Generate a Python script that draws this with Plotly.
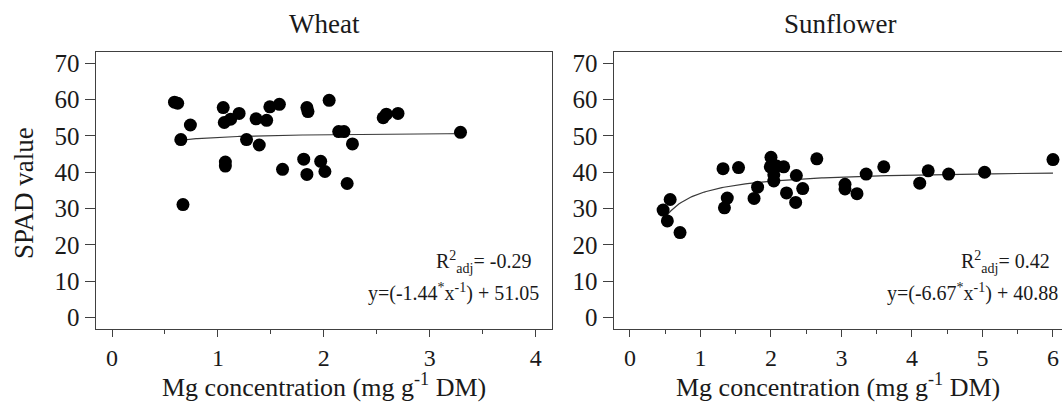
import plotly.graph_objects as go
import numpy as np

# ---------------- data ----------------
wheat_mg = [0.59, 0.62, 0.74, 0.65, 0.67, 1.05, 1.06, 1.12, 1.20, 1.07, 1.07,
            1.27, 1.36, 1.39, 1.46, 1.49, 1.58, 1.61, 1.81, 1.84, 1.85, 1.84,
            1.97, 2.01, 2.05, 2.14, 2.19, 2.22, 2.27, 2.56, 2.59, 2.70, 3.29]
wheat_spad = [59.3, 59.0, 53.0, 49.0, 31.1, 57.8, 53.7, 54.6, 56.2, 42.8, 41.7,
              49.0, 54.7, 47.5, 54.3, 58.0, 58.7, 40.8, 43.6, 57.8, 56.7, 39.4,
              43.0, 40.2, 59.8, 51.2, 51.2, 36.9, 47.8, 55.0, 56.0, 56.2, 51.0]

sun_mg = [0.47, 0.57, 0.53, 0.71, 1.32, 1.38, 1.34, 1.54, 1.76, 1.81, 2.00,
          1.99, 2.08, 2.18, 2.04, 2.04, 2.22, 2.36, 2.35, 2.45, 2.65, 3.05,
          3.05, 3.22, 3.35, 3.60, 4.11, 4.23, 4.52, 5.03, 6.00]
sun_spad = [29.6, 32.5, 26.6, 23.4, 41.0, 32.9, 30.2, 41.3, 32.8, 35.9, 44.1,
            41.5, 41.7, 41.5, 37.6, 39.3, 34.3, 39.1, 31.7, 35.5, 43.7, 36.7,
            35.4, 34.1, 39.5, 41.5, 37.0, 40.4, 39.5, 40.0, 43.5]

# fitted models y = a/x + b (coefficients printed on the chart)
wheat_a, wheat_b = -1.44, 51.05
sun_a, sun_b = -6.67, 40.88
wheat_r2 = "-0.29"
sun_r2 = "0.42"

y_ticks = [0, 10, 20, 30, 40, 50, 60, 70]
wheat_xticks = [0, 1, 2, 3, 4]
sun_xticks = [0, 1, 2, 3, 4, 5, 6]

# ---------------- figure ----------------
W, H = 1062, 402
FONT = "Liberation Serif, Times New Roman, serif"
TXT = "#1a1a1a"
AX = "#404040"

fig = go.Figure()

wx = np.linspace(min(wheat_mg), max(wheat_mg), 200)
sx = np.linspace(min(sun_mg), max(sun_mg), 200)

fig.add_trace(go.Scatter(x=wx, y=wheat_a / wx + wheat_b, mode="lines",
                         line=dict(color="#3a3a3a", width=1.2),
                         xaxis="x", yaxis="y", showlegend=False))
fig.add_trace(go.Scatter(x=wheat_mg, y=wheat_spad, mode="markers",
                         marker=dict(color="black", size=13),
                         xaxis="x", yaxis="y", showlegend=False))
fig.add_trace(go.Scatter(x=sx, y=sun_a / sx + sun_b, mode="lines",
                         line=dict(color="#3a3a3a", width=1.2),
                         xaxis="x2", yaxis="y2", showlegend=False))
fig.add_trace(go.Scatter(x=sun_mg, y=sun_spad, mode="markers",
                         marker=dict(color="black", size=13),
                         xaxis="x2", yaxis="y2", showlegend=False))

def px(x):
    return x / W

def py(y):
    return 1 - y / H

yd = [py(330.5), py(50.5)]

common_y = dict(range=[-3.2, 73.1], tickvals=y_ticks, ticks="outside", ticklen=10,
                tickwidth=1.4, tickcolor=AX, showline=True, linecolor=AX, linewidth=1.4,
                showgrid=False, zeroline=False, domain=yd,
                tickfont=dict(family=FONT, size=25, color=TXT))
common_x = dict(ticks="outside", ticklen=7, tickwidth=1.4, tickcolor=AX,
                showline=True, linecolor=AX, linewidth=1.4, mirror=True,
                showgrid=False, zeroline=False,
                minor=dict(ticks="outside", ticklen=4, dtick=0.5, tickwidth=1.2,
                           tickcolor=AX, showgrid=False),
                tickfont=dict(family=FONT, size=24, color=TXT))

fig.update_layout(
    width=W, height=H,
    margin=dict(l=0, r=0, t=0, b=0),
    paper_bgcolor="white", plot_bgcolor="white",
    font=dict(family=FONT, color=TXT),
    xaxis=dict(common_x, domain=[px(95.7), px(551.7)], range=[-0.154, 4.151],
               tickvals=wheat_xticks, anchor="y"),
    yaxis=dict(common_y, mirror=True, anchor="x"),
    xaxis2=dict(common_x, domain=[px(613.7), 1.0], range=[-0.231, 6.128],
                tickvals=sun_xticks, anchor="y2"),
    yaxis2=dict(common_y, mirror=False, anchor="x2"),
)

ann = []
ann.append(dict(text="Wheat", x=px(324), y=py(22), xref="paper", yref="paper",
                xanchor="center", yanchor="middle", showarrow=False,
                font=dict(family=FONT, size=27, color=TXT)))
ann.append(dict(text="Sunflower", x=px(840), y=py(22), xref="paper", yref="paper",
                xanchor="center", yanchor="middle", showarrow=False,
                font=dict(family=FONT, size=27, color=TXT)))
for cx in (323.7, 838):
    ann.append(dict(text="Mg concentration (mg g<sup>-1</sup> DM)", x=px(cx), y=py(387.5),
                    xref="paper", yref="paper", xanchor="center", yanchor="middle",
                    showarrow=False, font=dict(family=FONT, size=26, color=TXT)))
ann.append(dict(text="SPAD value", x=px(24), y=py(193), xref="paper", yref="paper",
                xanchor="center", yanchor="middle", textangle=-90, showarrow=False,
                font=dict(family=FONT, size=27, color=TXT)))

for r2, a, b, rx in ((wheat_r2, wheat_a, wheat_b, 541), (sun_r2, sun_a, sun_b, 1060)):
    ann.append(dict(text="R<sup>2</sup><sub>adj</sub>= " + r2, x=px(rx - 8), y=py(263),
                    xref="paper", yref="paper", xanchor="right", yanchor="middle",
                    showarrow=False, font=dict(family=FONT, size=20, color=TXT)))
    ann.append(dict(text="y=(%.2f<sup>*</sup>x<sup>-1</sup>) + %.2f" % (a, b),
                    x=px(rx), y=py(293), xref="paper", yref="paper",
                    xanchor="right", yanchor="middle", showarrow=False,
                    font=dict(family=FONT, size=20, color=TXT)))

fig.update_layout(annotations=ann)

fig.write_html("out.html")
